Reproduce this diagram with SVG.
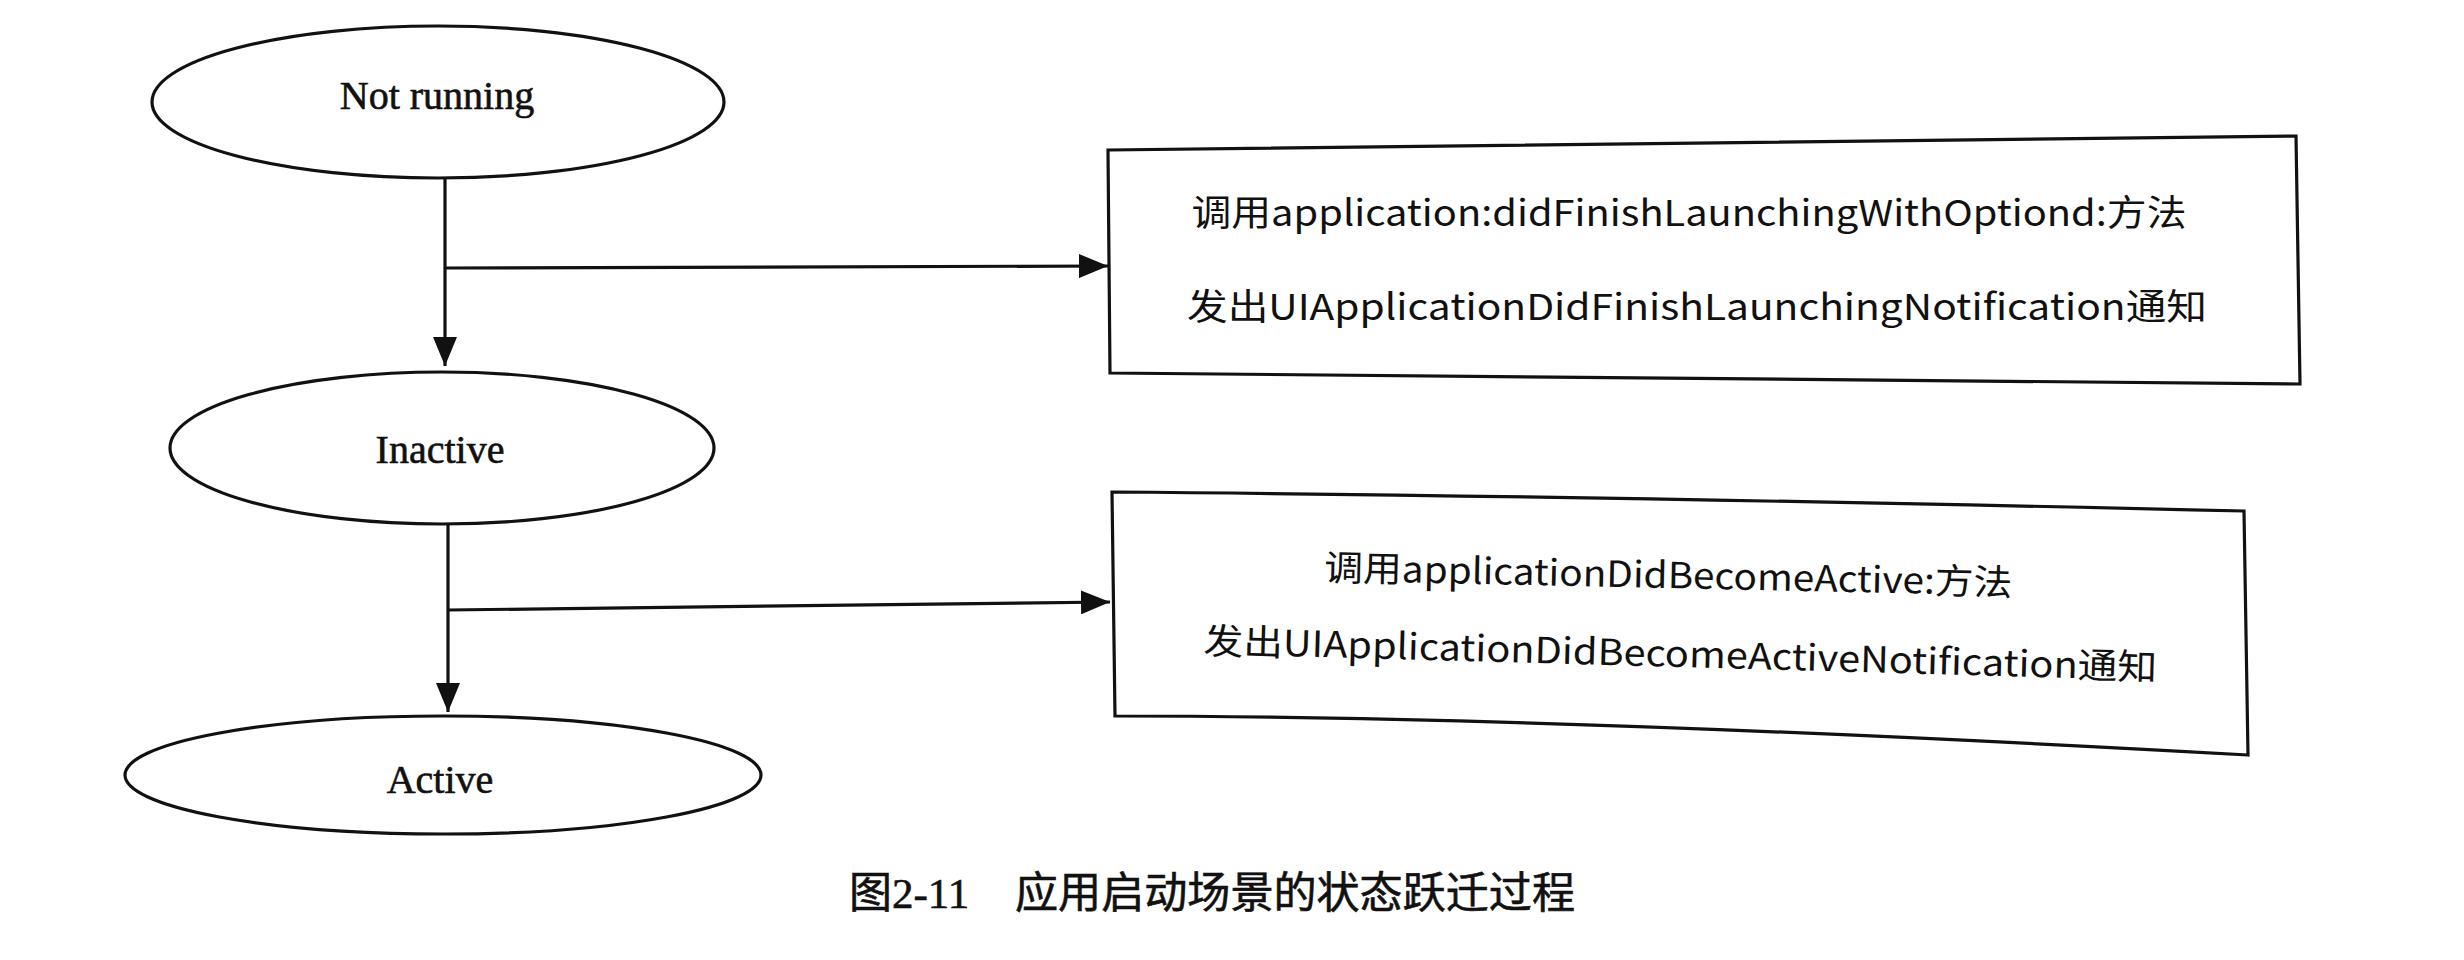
<svg xmlns="http://www.w3.org/2000/svg" width="2464" height="960" viewBox="0 0 2464 960">
<style>
.shape{fill:#fff;stroke:#111;stroke-width:3.2}
.edge{fill:none;stroke:#111;stroke-width:3.2}
.state{font-family:"Liberation Serif","Times New Roman",serif;font-size:40px;fill:#111;stroke:#111;stroke-width:0.6;text-anchor:middle}
.note{font-family:"Noto Sans CJK SC","Noto Sans",sans-serif;font-size:36px;fill:#111;text-anchor:middle}
.cap{font-family:"Liberation Serif","Noto Sans CJK SC",serif;font-size:43px;fill:#111;stroke:#111;stroke-width:0.6}
</style>
<defs>
<marker id="arrow" markerUnits="userSpaceOnUse" markerWidth="30" markerHeight="24" refX="29" refY="12" orient="auto">
<path d="M0,0 L29,12 L0,24 z" fill="#111"/>
</marker>
</defs>
<rect width="2464" height="960" fill="#fff"/>
<g id="connectors">
<path class="edge" d="M445,178 L445,366" marker-end="url(#arrow)"/>
<path class="edge" d="M445,268 L1108,266" marker-end="url(#arrow)"/>
<path class="edge" d="M448,523 L448,712" marker-end="url(#arrow)"/>
<path class="edge" d="M448,610 L1110,602" marker-end="url(#arrow)"/>
</g>
<g id="not-running">
<ellipse class="shape" cx="438" cy="102" rx="286" ry="76"/>
<text class="state" x="437" y="109">Not running</text>
</g>
<g id="inactive">
<ellipse class="shape" cx="442" cy="448" rx="272" ry="76"/>
<text class="state" x="440" y="463">Inactive</text>
</g>
<g id="active">
<ellipse class="shape" cx="443" cy="775" rx="318" ry="59"/>
<text class="state" x="440" y="793">Active</text>
</g>
<g id="launch-box">
<path class="shape" d="M1108,150 L2296,136 L2300,384 L1110,373 Z"/>
<text class="note" x="1689" y="226" textLength="995" lengthAdjust="spacingAndGlyphs">调用application:didFinishLaunchingWithOptiond:方法</text>
<text class="note" x="1697" y="320" textLength="1020" lengthAdjust="spacingAndGlyphs">发出UIApplicationDidFinishLaunchingNotification通知</text>
</g>
<g id="active-box">
<path class="shape" d="M1112,492 Q1600,496 2244,511 L2248,755 Q1547,716 1115,716 Z"/>
<text class="note" x="1668" y="588" textLength="688" lengthAdjust="spacingAndGlyphs" transform="rotate(1.25 1668 588)">调用applicationDidBecomeActive:方法</text>
<text class="note" x="1680" y="667" textLength="954" lengthAdjust="spacingAndGlyphs" transform="rotate(1.6 1680 667)">发出UIApplicationDidBecomeActiveNotification通知</text>
</g>
<g id="caption">
<text class="cap" x="849" y="908">图2-11</text>
<text class="cap" x="1015" y="908" textLength="560" lengthAdjust="spacingAndGlyphs">应用启动场景的状态跃迁过程</text>
</g>
</svg>
